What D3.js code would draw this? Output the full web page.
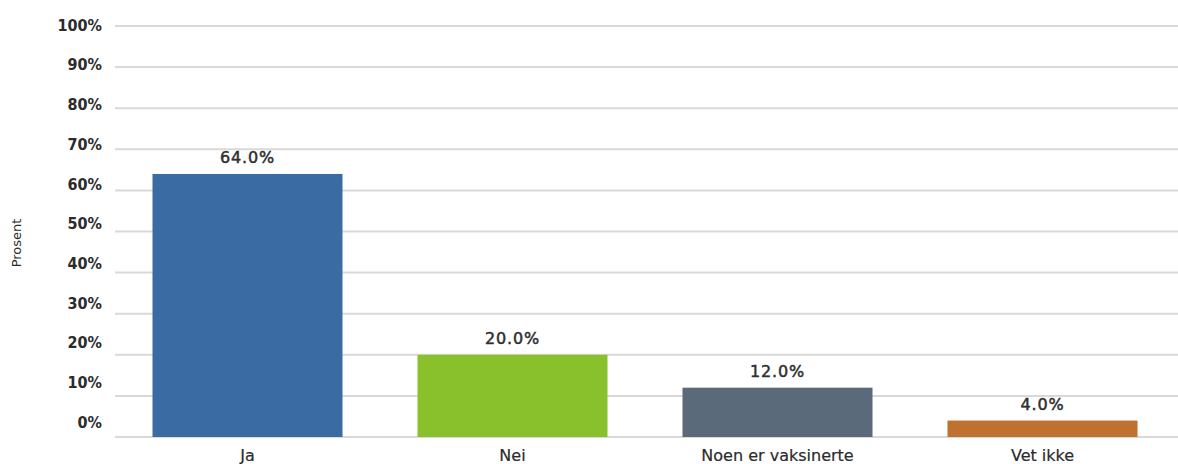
<!DOCTYPE html>
<html><head><meta charset="utf-8">
<script src="https://cdn.jsdelivr.net/npm/d3@7"></script>
<style>body{margin:0;background:#fff}svg{display:block}</style>
</head><body>
<svg id="c" width="1178" height="464"></svg>
<script>
const categories = ["Ja", "Nei", "Noen er vaksinerte", "Vet ikke"];
const values = [64.0, 20.0, 12.0, 4.0];
const colors = ["#3a6ba3", "#88c12b", "#5b6a7b", "#c0702f"];
const yTicks = [0, 10, 20, 30, 40, 50, 60, 70, 80, 90, 100];
const yTitle = "Prosent";

const svg = d3.select("#c");
const x = d3.scaleBand().domain(categories).range([115, 1175]).paddingInner(0.283).paddingOuter(0.1415);
const y = d3.scaleLinear().domain([0, 100]).range([437, 26]);
const yLab = d3.scaleLinear().domain([0, 100]).range([422, 25]);

svg.append("g").selectAll("line").data(yTicks).join("line")
  .attr("x1", 115).attr("x2", 1178)
  .attr("y1", d => y(d)).attr("y2", d => y(d))
  .attr("stroke", "#d9d9d9").attr("stroke-width", 2);

svg.append("g").selectAll("text").data(yTicks).join("text")
  .attr("x", 102).attr("y", d => yLab(d))
  .attr("dy", "0.36em")
  .attr("text-anchor", "end")
  .attr("font-family", "DejaVu Sans Condensed, DejaVu Sans")
  .attr("font-weight", "bold").attr("font-size", 16)
  .attr("fill", "#2b2b2b")
  .text(d => d + "%");

svg.append("g").selectAll("rect").data(values).join("rect")
  .attr("x", (d, i) => x(categories[i]))
  .attr("width", x.bandwidth())
  .attr("y", d => y(d))
  .attr("height", d => y(0) - y(d))
  .attr("fill", (d, i) => colors[i]);

svg.append("g").selectAll("text").data(values).join("text")
  .attr("x", (d, i) => x(categories[i]) + x.bandwidth() / 2)
  .attr("y", d => y(d) - 11)
  .attr("text-anchor", "middle")
  .attr("font-family", "DejaVu Sans")
  .attr("font-size", 16).attr("letter-spacing", 0.8)
  .attr("fill", "#2f2f2f").attr("stroke", "#2f2f2f").attr("stroke-width", 0.5)
  .text(d => d.toFixed(1) + "%");

svg.append("g").selectAll("text").data(categories).join("text")
  .attr("x", d => x(d) + x.bandwidth() / 2)
  .attr("y", 461)
  .attr("text-anchor", "middle")
  .attr("font-family", "DejaVu Sans")
  .attr("font-size", 16)
  .attr("fill", "#2b2b2b").attr("stroke", "#2b2b2b").attr("stroke-width", 0.2)
  .text(d => d);

svg.append("text")
  .attr("transform", "translate(21,243) rotate(-90)")
  .attr("text-anchor", "middle")
  .attr("font-family", "DejaVu Sans")
  .attr("font-size", 13)
  .attr("fill", "#2b2b2b")
  .text(yTitle);
</script>
</body></html>
